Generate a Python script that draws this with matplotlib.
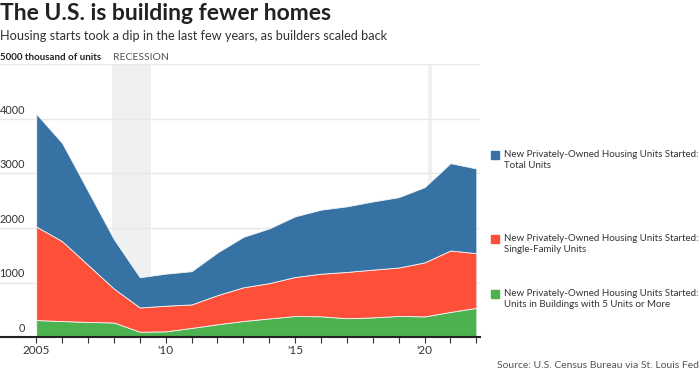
import matplotlib.pyplot as plt

years = list(range(2005, 2023))
# thousands of units started per year
total_units = [2068, 1801, 1355, 906, 554, 587, 609, 781, 925, 1003,
               1112, 1174, 1203, 1250, 1290, 1380, 1601, 1553]
single_family = [1716, 1465, 1046, 622, 445, 471, 431, 535, 618, 648,
                 715, 782, 849, 876, 888, 991, 1127, 1005]
five_plus = [311, 293, 277, 266, 97, 104, 167, 234, 294, 341,
             386, 380, 345, 360, 387, 378, 461, 534]

recessions = [(2007.92, 2009.45), (2020.12, 2020.3)]
y_ticks = [0, 1000, 2000, 3000, 4000]
x_ticks = [2005, 2010, 2015, 2020]
x_labels = ['2005', "'10", "'15", "'20"]

series_labels = [
    "New Privately-Owned Housing Units Started:\nTotal Units",
    "New Privately-Owned Housing Units Started:\nSingle-Family Units",
    "New Privately-Owned Housing Units Started:\nUnits in Buildings with 5 Units or More",
]
blue = '#3673a4'
red = '#fe4f38'
green = '#4cb14f'

plt.rcParams['font.family'] = ['Lato', 'DejaVu Sans']

fig = plt.figure(figsize=(7, 3.76), dpi=100)
ax = fig.add_axes([0, 0.1037, 0.686, 0.7248])

for start, end in recessions:
    ax.axvspan(start, end, color='#eff0f2', lw=0, zorder=0)

for y in y_ticks[1:] + [5000]:
    ax.axhline(y, color='#e8e8e8', lw=1, zorder=1)

ax.stackplot(years, five_plus, single_family, total_units,
             colors=[green, red, blue], edgecolor='#f4f4f4', linewidth=0.6, zorder=2)

ax.set_xlim(2003.6, 2022.15)
ax.set_ylim(0, 5000)

for s in ['top', 'right', 'left']:
    ax.spines[s].set_visible(False)
ax.spines['bottom'].set_color('#222222')
ax.spines['bottom'].set_linewidth(1.5)
ax.spines['bottom'].set_zorder(5)

ax.set_yticks([])
ax.set_xticks(x_ticks, x_labels)
ax.set_xticks(years, minor=True)
ax.tick_params(axis='x', which='both', length=4, width=0.8, color='#333333',
               labelsize=8.5, labelcolor='#333333', pad=1.5)

for y in y_ticks:
    ax.text(0.052, y + 60, str(y), transform=ax.get_yaxis_transform(),
            ha='right', va='bottom', fontsize=7.8, color='#333333')

ax.text(0.0, 5040, '5000 thousand of units', transform=ax.get_yaxis_transform(),
        ha='left', va='bottom', fontsize=7, color='#222222', fontweight='bold')
ax.text(2007.95, 5040, 'RECESSION', ha='left', va='bottom', fontsize=7.5, color='#555555')

fig.text(0.0, 0.963, 'The U.S. is building fewer homes', fontsize=16.5,
         fontweight='bold', color='#222222', ha='left', va='center')
fig.text(0.0, 0.905, 'Housing starts took a dip in the last few years, as builders scaled back',
         fontsize=9.2, color='#333333', ha='left', va='center')
fig.text(0.998, 0.027, 'Source: U.S. Census Bureau via St. Louis Fed', fontsize=7.5,
         color='#555555', ha='right', va='center')

legend_y = [155, 239, 294]
legend_colors = [blue, red, green]
for ly, lab, col in zip(legend_y, series_labels, legend_colors):
    fig.patches.append(plt.Rectangle((491 / 700, 1 - (ly + 4) / 376), 8 / 700, 8 / 376,
                                     transform=fig.transFigure, color=col))
    fig.text(504 / 700, 1 - (ly - 5) / 376, lab, fontsize=7.0, color='#333333',
             ha='left', va='top', linespacing=1.3)

fig.savefig('out.png', dpi=100)
